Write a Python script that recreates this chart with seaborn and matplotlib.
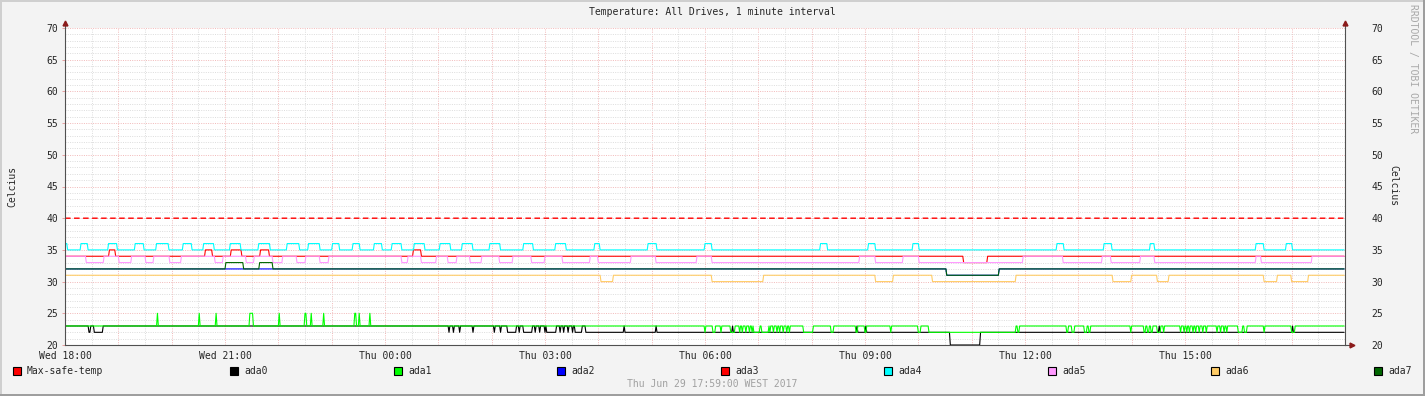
import numpy as np
import pandas as pd
import matplotlib
matplotlib.use("Agg")
import matplotlib.pyplot as plt
from matplotlib.patches import Rectangle
from matplotlib.lines import Line2D
import seaborn as sns

# ---------------- texts ----------------
TITLE = "Temperature: All Drives, 1 minute interval"
Y_LABEL = "Celcius"
FOOTER = "Thu Jun 29 17:59:00 WEST 2017"
WATERMARK = "RRDTOOL / TOBI OETIKER"

# ---------------- axes ----------------
n_minutes = 1440  # minutes since Wed 18:00
x_tick_minutes = [0, 180, 360, 540, 720, 900, 1080, 1260]
x_tick_labels = ["Wed 18:00", "Wed 21:00", "Thu 00:00", "Thu 03:00",
                 "Thu 06:00", "Thu 09:00", "Thu 12:00", "Thu 15:00"]
y_ticks = [20, 25, 30, 35, 40, 45, 50, 55, 60, 65, 70]

series_names = ["Max-safe-temp", "ada0", "ada1", "ada2", "ada3",
                "ada4", "ada5", "ada6", "ada7"]
series_colors = ["#FF0000", "#000000", "#00FF00", "#0000FF", "#FF0000",
                 "#00FFFF", "#FF99FF", "#FFCC66", "#006600"]

# ---------------- data ----------------
# each series: baseline value + (start_minute, end_minute, value) episodes
max_safe_temp = 40

ada0_base = 22
ada0_changes = [(0, 26, 23), (29, 32, 23), (43, 431, 23), (433, 436, 23),
                (438, 443, 23), (445, 458, 23), (460, 482, 23), (484, 489, 23),
                (491, 497, 23), (508, 510, 23), (512, 515, 23), (526, 528, 23),
                (530, 533, 23), (535, 539, 23), (541, 541, 23), (553, 556, 23),
                (558, 560, 23), (562, 565, 23), (567, 570, 23), (572, 573, 23),
                (582, 585, 23), (629, 629, 23), (665, 665, 23), (751, 751, 23),
                (891, 891, 23), (901, 901, 23), (996, 1029, 20),
                (1231, 1231, 23), (1381, 1381, 23)]

ada1_base = 23
ada1_changes = [(104, 104, 25), (151, 151, 25), (170, 170, 25), (208, 211, 25),
                (241, 241, 25), (270, 271, 25), (277, 277, 25), (291, 291, 25),
                (326, 327, 25), (331, 331, 25), (343, 343, 25),
                (720, 720, 22), (729, 731, 22), (738, 738, 22), (749, 753, 22),
                (759, 759, 22), (762, 762, 22), (766, 766, 22), (770, 770, 22),
                (773, 773, 22), (775, 781, 22), (784, 791, 22), (793, 793, 22),
                (797, 797, 22), (801, 801, 22), (804, 804, 22), (808, 808, 22),
                (812, 812, 22), (815, 815, 22), (831, 841, 22), (862, 864, 22),
                (890, 891, 22), (900, 901, 22), (929, 929, 22), (960, 962, 22),
                (972, 1069, 22), (1072, 1073, 22), (1127, 1128, 22),
                (1133, 1135, 22), (1147, 1149, 22), (1152, 1153, 22),
                (1199, 1199, 22), (1214, 1215, 22), (1218, 1219, 22),
                (1222, 1223, 22), (1229, 1232, 22), (1236, 1236, 22),
                (1255, 1255, 22), (1259, 1259, 22), (1262, 1262, 22),
                (1265, 1265, 22), (1269, 1269, 22), (1272, 1272, 22),
                (1276, 1276, 22), (1280, 1280, 22), (1284, 1284, 22),
                (1296, 1296, 22), (1300, 1300, 22), (1304, 1304, 22),
                (1307, 1307, 22), (1320, 1324, 22), (1327, 1329, 22),
                (1349, 1349, 22), (1380, 1383, 22)]

ada2_base = 32
ada2_changes = [(992, 1050, 31)]

ada3_base = 34
ada3_changes = [(50, 56, 35), (158, 165, 35), (187, 198, 35), (220, 229, 35),
                (392, 400, 35), (1011, 1037, 33)]

ada4_base = 35
ada4_changes = [(0, 2, 36), (18, 25, 36), (49, 58, 36), (79, 88, 36),
                (103, 116, 36), (133, 142, 36), (156, 167, 36), (186, 197, 36),
                (218, 230, 36), (250, 263, 36), (274, 286, 36), (301, 308, 36),
                (324, 331, 36), (348, 356, 36), (368, 378, 36), (393, 404, 36),
                (422, 433, 36), (447, 458, 36), (478, 489, 36), (516, 526, 36),
                (552, 563, 36), (596, 601, 36), (656, 665, 36), (720, 727, 36),
                (850, 857, 36), (904, 911, 36), (954, 960, 36), (1116, 1123, 36),
                (1169, 1177, 36), (1221, 1225, 36), (1340, 1348, 36),
                (1374, 1380, 36)]

ada5_base = 34
ada5_changes = [(24, 43, 33), (61, 74, 33), (91, 99, 33), (118, 130, 33),
                (169, 177, 33), (204, 212, 33), (234, 244, 33), (261, 270, 33),
                (287, 296, 33), (379, 385, 33), (401, 417, 33), (431, 440, 33),
                (456, 468, 33), (489, 503, 33), (525, 539, 33), (560, 590, 33),
                (600, 636, 33), (665, 710, 33), (728, 893, 33), (912, 942, 33),
                (961, 1077, 33), (1123, 1166, 33), (1177, 1209, 33),
                (1226, 1339, 33), (1346, 1402, 33)]

ada6_base = 31
ada6_changes = [(603, 616, 30), (728, 785, 30), (912, 931, 30), (976, 1069, 30),
                (1179, 1199, 30), (1229, 1241, 30), (1349, 1363, 30),
                (1380, 1398, 30)]

ada7_base = 32
ada7_changes = [(181, 200, 33), (219, 233, 33), (992, 1050, 31)]


def expand(base, changes):
    v = np.full(n_minutes, float(base))
    for s, e, val in changes:
        v[s:e + 1] = val
    return v


minutes = np.arange(n_minutes)
drive_data = {
    "ada0": expand(ada0_base, ada0_changes),
    "ada1": expand(ada1_base, ada1_changes),
    "ada2": expand(ada2_base, ada2_changes),
    "ada3": expand(ada3_base, ada3_changes),
    "ada4": expand(ada4_base, ada4_changes),
    "ada5": expand(ada5_base, ada5_changes),
    "ada6": expand(ada6_base, ada6_changes),
    "ada7": expand(ada7_base, ada7_changes),
}
df = pd.concat([pd.DataFrame({"minute": minutes, "temp": v, "drive": k})
                for k, v in drive_data.items()], ignore_index=True)
df_max = pd.DataFrame({"minute": minutes,
                       "temp": np.full(n_minutes, float(max_safe_temp))})

# ---------------- style ----------------
sns.set_style("white")
plt.rcParams["font.family"] = ["DejaVu Sans Mono"]
FS = 7
BG = "#F3F3F3"

W, H = 1425, 396


def fx(px):
    return px / W


def fy(py):
    return 1 - py / H


fig = plt.figure(figsize=(W / 100, H / 100), dpi=100, facecolor=BG)
ax = fig.add_axes([fx(65), fy(345), fx(1345) - fx(65), fy(28) - fy(345)])
ax.set_facecolor("white")

# series
sns.lineplot(data=df_max, x="minute", y="temp", color=series_colors[0],
             linewidth=1.0, linestyle=(0, (4, 2.5)), ax=ax, legend=False,
             estimator=None)
palette = dict(zip(series_names[1:], series_colors[1:]))
sns.lineplot(data=df, x="minute", y="temp", hue="drive",
             hue_order=series_names[1:], palette=palette, linewidth=0.8,
             estimator=None, sort=False, legend=False, ax=ax)

ax.set_xlim(0, n_minutes)
ax.set_ylim(20, 70)
ax.set_xlabel("")
ax.set_ylabel("")

# grid
major_x = np.arange(0, n_minutes + 1, 60)
ax.set_xticks(major_x)
lab_map = dict(zip(x_tick_minutes, x_tick_labels))
ax.set_xticklabels([lab_map.get(int(m), "") for m in major_x], fontsize=FS)
ax.set_xticks(np.arange(30, n_minutes, 60), minor=True)
ax.set_yticks(y_ticks)
ax.set_yticklabels([str(t) for t in y_ticks], fontsize=FS)
ax.set_yticks(np.arange(20, 71, 1), minor=True)
ax.set_axisbelow(True)
ax.grid(which="major", color="#F2BCBC", linestyle=(0, (1, 1.3)), linewidth=0.72)
ax.grid(which="minor", color="#DEDEDE", linestyle=(0, (1, 1.3)), linewidth=0.72)
ax.tick_params(axis="x", which="major", length=2.5, width=0.7,
               color="#E8A0A0", pad=2, labelsize=FS)
ax.tick_params(axis="x", which="minor", length=2.5, width=0.7, color="#D0D0D0")
ax.tick_params(axis="y", which="major", length=2.0, width=0.7,
               color="#E8A0A0", pad=3.0, labelsize=FS)
ax.tick_params(axis="y", which="minor", length=0)

for s in ["left", "bottom", "right"]:
    ax.spines[s].set_color("#505050")
    ax.spines[s].set_linewidth(0.8)
ax.spines["top"].set_visible(False)

# axis extensions + arrows
ARROW = "#8B1A1A"
ax.add_line(Line2D([0, 0], [1, 1 + 4 / 317], transform=ax.transAxes,
                   color="#505050", lw=0.8, clip_on=False))
ax.add_line(Line2D([1, 1], [1, 1 + 4 / 317], transform=ax.transAxes,
                   color="#505050", lw=0.8, clip_on=False))
ax.add_line(Line2D([1, 1 + 5 / 1280], [0, 0], transform=ax.transAxes,
                   color="#505050", lw=0.8, clip_on=False))
ax.plot([0], [1 + 5 / 317], marker="^", ms=3.5, color=ARROW,
        transform=ax.transAxes, clip_on=False)
ax.plot([1], [1 + 5 / 317], marker="^", ms=3.5, color=ARROW,
        transform=ax.transAxes, clip_on=False)
ax.plot([1 + 7 / 1280], [0], marker=">", ms=3.5, color=ARROW,
        transform=ax.transAxes, clip_on=False)

# right-side labels
ax2 = ax.twinx()
ax2.set_ylim(20, 70)
ax2.set_yticks(y_ticks)
ax2.set_yticklabels([str(t) for t in y_ticks], fontsize=FS)
ax2.tick_params(axis="y", length=0, pad=19)
for s in ax2.spines.values():
    s.set_visible(False)
ax2.grid(False)

# texts
fig.text(fx(712), fy(12), TITLE, ha="center", va="center", fontsize=FS)
fig.text(fx(12), fy(186), Y_LABEL, rotation=90, ha="center", va="center",
         fontsize=FS)
fig.text(fx(1393), fy(186), Y_LABEL, rotation=270, ha="center", va="center",
         fontsize=FS)
fig.text(fx(1413), fy(4), WATERMARK, rotation=270, ha="center", va="top",
         fontsize=FS, color="#A8A8A8")
fig.text(fx(712), fy(384), FOOTER, ha="center", va="center", fontsize=FS,
         color="#A0A0A0")

# legend
legend_left_px = [13, 230, 394, 557, 721, 884, 1048, 1211, 1374]
for name, col, lx in zip(series_names, series_colors, legend_left_px):
    fig.add_artist(Rectangle((fx(lx), fy(374.5)), 8 / W, 8 / H,
                             transform=fig.transFigure, facecolor=col,
                             edgecolor="black", linewidth=0.8))
    fig.text(fx(lx + 14), fy(370.5), name, ha="left", va="center", fontsize=FS)


# border shading
def rect(x0, y0, w, h, color):
    fig.add_artist(Rectangle((fx(x0), fy(y0 + h)), w / W, h / H,
                             transform=fig.transFigure, facecolor=color,
                             edgecolor="none", linewidth=0))


rect(0, 0, W, 2, "#CFCFCF")
rect(0, 0, 2, H, "#CFCFCF")
rect(0, H - 2, W, 2, "#9E9E9E")
rect(W - 2, 0, 2, H, "#9E9E9E")

fig.savefig("out.png", dpi=100, facecolor=fig.get_facecolor())
